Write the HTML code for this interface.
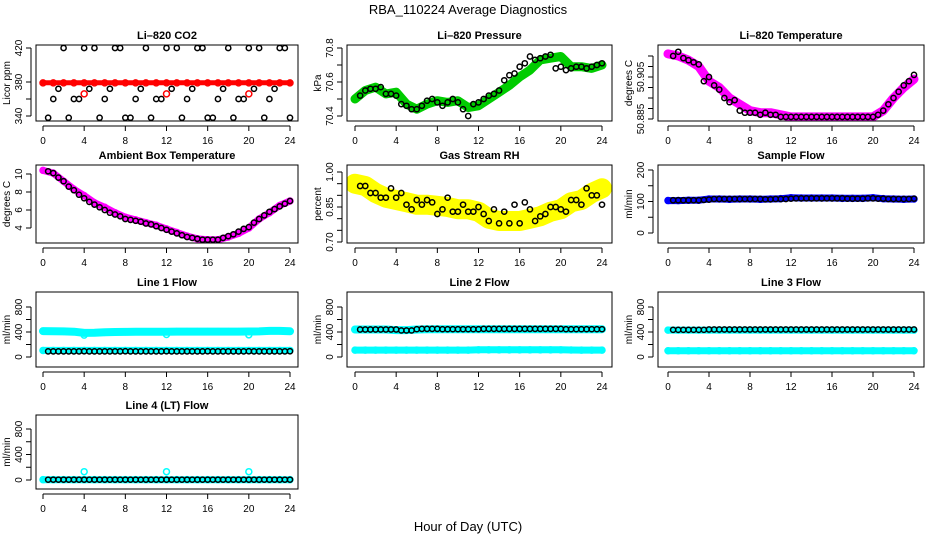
<!DOCTYPE html>
<html><head><meta charset="utf-8"><style>
body{margin:0;background:#fff;}
svg{display:block;font-family:"Liberation Sans",sans-serif;}
</style></head><body>
<svg id="c" width="936" height="540" viewBox="0 0 936 540">
<text x="468" y="14" text-anchor="middle" font-size="13">RBA_110224  Average Diagnostics</text>
<text x="468" y="531" text-anchor="middle" font-size="13">Hour of Day (UTC)</text>
</svg>
<script>
// ---- data (hourly colored series at 0..24, black series at 0.5..24 half-hourly) ----
const xTicks = [0,4,8,12,16,20,24];
const co2Red = [379,379,379,379,379,379,379,379,379,379,379,379,379,379,379,379,379,379,379,379,379,379,379,379,379];
const co2RedOutX = [4,12,20];
const co2RedOut = [366,366,366];
const co2Black = [338,360,372,420,338,360,360,420,372,420,338,360,372,420,420,338,338,360,372,420,338,360,360,420,372,420,338,360,372,420,420,338,338,360,372,420,338,360,360,420,372,420,338,360,372,420,420,338];
const presGreen = [70.5,70.55,70.57,70.53,70.54,70.47,70.44,70.47,70.49,70.48,70.49,70.45,70.46,70.5,70.54,70.58,70.63,70.67,70.73,70.74,70.75,70.69,70.69,70.68,70.7];
const presBlack = [70.52,70.55,70.56,70.56,70.57,70.53,70.53,70.52,70.47,70.46,70.44,70.44,70.46,70.49,70.5,70.48,70.46,70.48,70.5,70.48,70.44,70.4,70.47,70.48,70.5,70.52,70.53,70.55,70.61,70.64,70.65,70.69,70.71,70.75,70.73,70.74,70.75,70.76,70.68,70.69,70.67,70.68,70.69,70.69,70.68,70.69,70.7,70.71];
const tempMag = [50.916,50.915,50.913,50.910,50.903,50.900,50.895,50.892,50.889,50.888,50.888,50.887,50.886,50.886,50.886,50.886,50.886,50.886,50.886,50.886,50.886,50.889,50.895,50.900,50.904];
const tempBlack = [50.915,50.917,50.914,50.913,50.912,50.911,50.903,50.905,50.901,50.899,50.895,50.893,50.894,50.889,50.888,50.888,50.888,50.887,50.888,50.887,50.887,50.886,50.886,50.886,50.886,50.886,50.886,50.886,50.886,50.886,50.886,50.886,50.886,50.886,50.886,50.886,50.886,50.886,50.886,50.886,50.887,50.889,50.892,50.895,50.898,50.901,50.903,50.906];
const ambMag = [10.4,10.1,9.2,8.3,7.6,6.8,6.3,5.7,5.2,4.9,4.6,4.3,3.9,3.5,3.1,2.8,2.7,2.7,3.0,3.4,4.0,5.0,5.7,6.5,7.0];
const ambBlack = [10.3,10.1,9.6,9.2,8.6,8.2,7.7,7.3,6.9,6.6,6.3,6.0,5.7,5.5,5.3,5.0,4.9,4.8,4.7,4.5,4.4,4.2,4.0,3.8,3.6,3.4,3.2,3.0,2.9,2.8,2.7,2.7,2.7,2.7,2.9,3.1,3.3,3.6,3.9,4.1,4.6,5.0,5.4,5.8,6.1,6.4,6.7,7.0];
const rhYellow = [0.95,0.94,0.91,0.89,0.88,0.87,0.86,0.86,0.855,0.85,0.84,0.84,0.83,0.80,0.79,0.79,0.79,0.80,0.81,0.83,0.84,0.87,0.88,0.91,0.93];
const rhBlack = [0.94,0.94,0.91,0.91,0.89,0.89,0.93,0.89,0.91,0.86,0.84,0.88,0.86,0.88,0.87,0.82,0.84,0.89,0.83,0.83,0.86,0.83,0.83,0.85,0.82,0.79,0.84,0.78,0.83,0.78,0.86,0.78,0.87,0.84,0.79,0.81,0.82,0.85,0.85,0.84,0.83,0.88,0.88,0.86,0.93,0.90,0.90,0.86];
const sampBlue = [103,103,104,104,108,108,107,108,108,107,108,109,112,111,111,111,111,110,110,110,112,109,108,107,108];
const sampBlack = [104,104,104,104,104,104,105,106,108,108,108,108,108,108,108,108,108,108,107,107,108,108,108,109,110,110,110,110,110,110,110,110,110,110,109,109,109,109,110,110,109,109,108,108,108,108,108,109];
const l1CyanHi = [415,412,410,405,385,388,395,400,402,404,405,405,405,406,406,406,406,406,406,406,408,410,418,418,412];
const l1CyanLo = [105,105,105,105,105,105,105,105,105,105,105,105,105,105,105,105,105,105,105,105,105,105,105,105,105];
const l1OutX = [4,12,20];
const l1Out = [350,360,355];
const l1Black = [90,90,90,90,90,90,90,92,90,90,90,90,90,90,90,92,90,90,90,90,90,90,90,92,90,90,90,90,90,90,90,92,90,90,90,90,90,90,90,92,90,90,90,90,90,90,90,92];
const l2CyanHi = [440,440,440,440,430,430,440,445,445,445,445,445,445,445,445,445,445,445,445,445,445,445,445,445,445];
const l2CyanLo = [110,110,110,110,110,110,110,110,110,110,110,110,115,115,115,115,115,115,115,115,115,112,110,110,110];
const l2Black = [440,440,440,440,440,440,440,440,425,425,425,445,450,450,450,450,445,445,445,445,445,445,445,445,450,450,450,450,450,450,450,450,450,450,450,450,450,450,450,450,445,445,445,445,445,445,445,445];
const l3CyanHi = [430,430,430,430,430,430,430,430,430,430,430,430,430,430,430,430,430,430,430,430,430,430,430,430,430];
const l3CyanLo = [100,100,100,100,100,100,100,100,100,100,100,100,100,100,100,100,100,100,100,100,100,100,100,100,100];
const l3Black = [435,435,435,435,435,435,435,440,440,440,440,440,440,440,440,440,440,440,440,440,440,440,440,440,440,440,440,440,440,440,440,440,440,440,440,440,440,440,440,440,440,440,440,440,440,440,440,440];
const l4Cyan = [5,5,5,5,5,5,5,5,5,5,5,5,5,5,5,5,5,5,5,5,5,5,5,5,5];
const l4OutX = [4,12,20];
const l4Out = [130,130,130];
const l4Black = [5,5,5,5,5,5,5,5,5,5,5,5,5,5,5,5,5,5,5,5,5,5,5,5,5,5,5,5,5,5,5,5,5,5,5,5,5,5,5,5,5,5,5,5,5,5,5,5];

const NS="http://www.w3.org/2000/svg";
const svg=document.getElementById('c');
function mk(tag,attrs,parent){const e=document.createElementNS(NS,tag);for(const k in attrs)e.setAttribute(k,attrs[k]);(parent||svg).appendChild(e);return e;}
const cols=[{bx0:36,bx1:298,x0:43,x24:290},{bx0:347,bx1:612,x0:355,x24:602},{bx0:658,bx1:924,x0:668,x24:914}];
const rows=[{by0:45,by1:121},{by0:165,by1:243},{by0:292,by1:367},{by0:415,by1:489}];
function hourly(n){const a=[];for(let i=0;i<n;i++)a.push(i);return a;}
function half(n){const a=[];for(let i=0;i<n;i++)a.push(0.5+i*0.5);return a;}
const H=hourly(25), HH=half(48);
const flowTicks=[0,200,400,600,800], flowLabels=[0,400,800];
const panels=[
 {name:'li820-co2',title:'Li\u2013820 CO2',c:0,r:0,ylab:'Licor ppm',v1:340,p1:116,v2:420,p2:48,ticks:[340,360,380,420],labels:[340,380,420],fmt:v=>v,
  bands:[{x:H,y:co2Red,color:'#ff0000',w:5}],outs:[{x:co2RedOutX,y:co2RedOut,color:'#ff0000'}],black:co2Black},
 {name:'li820-pressure',title:'Li\u2013820 Pressure',c:1,r:0,ylab:'kPa',v1:70.4,p1:116,v2:70.8,p2:48,ticks:[70.4,70.5,70.6,70.7,70.8],labels:[70.4,70.6,70.8],fmt:v=>v.toFixed(1),
  bands:[{x:H,y:presGreen,color:'#00cc00',w:9}],outs:[],black:presBlack},
 {name:'li820-temperature',title:'Li\u2013820 Temperature',c:2,r:0,ylab:'degrees C',v1:50.885,p1:119,v2:50.905,p2:77,ticks:[50.885,50.89,50.895,50.9,50.905,50.91,50.915],labels:[50.885,50.905],fmt:v=>v.toFixed(3),
  bands:[{x:H,y:tempMag,color:'#ff00ff',w:9}],outs:[],black:tempBlack},
 {name:'ambient-box-temperature',title:'Ambient Box Temperature',c:0,r:1,ylab:'degrees C',v1:4,p1:228,v2:10,p2:174,ticks:[4,6,8,10],labels:[4,6,8,10],fmt:v=>v,
  bands:[{x:H,y:ambMag,color:'#ff00ff',w:7}],outs:[],black:ambBlack},
 {name:'gas-stream-rh',title:'Gas Stream RH',c:1,r:1,ylab:'percent',v1:0.7,p1:242,v2:1.0,p2:172,ticks:[0.7,0.75,0.8,0.85,0.9,0.95,1.0],labels:[0.7,0.85,1.0],fmt:v=>v.toFixed(2),
  bands:[{x:H,y:rhYellow,color:'#ffff00',w:20}],outs:[],black:rhBlack},
 {name:'sample-flow',title:'Sample Flow',c:2,r:1,ylab:'ml/min',v1:0,p1:233,v2:200,p2:170,ticks:[0,50,100,150,200],labels:[0,100,200],fmt:v=>v,
  bands:[{x:H,y:sampBlue,color:'#0000ff',w:7}],outs:[],black:sampBlack},
 {name:'line1-flow',title:'Line 1 Flow',c:0,r:2,ylab:'ml/min',v1:0,p1:357,v2:800,p2:307,ticks:flowTicks,labels:flowLabels,fmt:v=>v,
  bands:[{x:H,y:l1CyanHi,color:'#00ffff',w:8},{x:H,y:l1CyanLo,color:'#00ffff',w:7}],outs:[{x:l1OutX,y:l1Out,color:'#00ffff'}],black:l1Black},
 {name:'line2-flow',title:'Line 2 Flow',c:1,r:2,ylab:'ml/min',v1:0,p1:357,v2:800,p2:307,ticks:flowTicks,labels:flowLabels,fmt:v=>v,
  bands:[{x:H,y:l2CyanHi,color:'#00ffff',w:8},{x:H,y:l2CyanLo,color:'#00ffff',w:7}],outs:[],black:l2Black},
 {name:'line3-flow',title:'Line 3 Flow',c:2,r:2,ylab:'ml/min',v1:0,p1:357,v2:800,p2:307,ticks:flowTicks,labels:flowLabels,fmt:v=>v,
  bands:[{x:H,y:l3CyanHi,color:'#00ffff',w:7},{x:H,y:l3CyanLo,color:'#00ffff',w:7}],outs:[],black:l3Black},
 {name:'line4-lt-flow',title:'Line 4 (LT) Flow',c:0,r:3,ylab:'ml/min',v1:0,p1:480,v2:800,p2:429,ticks:flowTicks,labels:flowLabels,fmt:v=>v,
  bands:[{x:H,y:l4Cyan,color:'#00ffff',w:7}],outs:[{x:l4OutX,y:l4Out,color:'#00ffff'}],black:l4Black}
];
panels.forEach(p=>{
  const C=cols[p.c],R=rows[p.r];
  const g=mk('g',{});
  
  
  const xs=h=>C.x0+(C.x24-C.x0)*h/24;
  const ys=v=>p.p1+(p.p2-p.p1)*(v-p.v1)/(p.v2-p.v1);
  const cx=(C.bx0+C.bx1)/2;
  const t=mk('text',{x:cx,y:R.by0-6,'text-anchor':'middle','font-size':11,'font-weight':'bold'},g);
  t.textContent=p.title;
  
  
  const clip=mk('clipPath',{id:'clip-'+p.name},g);
  mk('rect',{x:C.bx0,y:R.by0,width:C.bx1-C.bx0,height:R.by1-R.by0},clip);
  const dg=mk('g',{'clip-path':'url(#clip-'+p.name+')'},g);
  p.bands.forEach(b=>{
    const pts=b.x.map((h,i)=>xs(h).toFixed(1)+','+ys(b.y[i]).toFixed(1)).join(' ');
    const pl=mk('polyline',{points:pts,fill:'none',stroke:b.color,'stroke-width':b.w,'stroke-linejoin':'round','stroke-linecap':'round'},dg);
    
    
    b.x.forEach((h,i)=>{
      const ci=mk('circle',{cx:xs(h),cy:ys(b.y[i]),r:3,fill:'none',stroke:b.color,'stroke-width':1.5},dg);
      
      
    });
  });
  p.outs.forEach(o=>{o.x.forEach((h,i)=>{
    const ci=mk('circle',{cx:xs(h),cy:ys(o.y[i]),r:3,fill:'none',stroke:o.color,'stroke-width':1.5},dg);
    
    
  });});
  p.black.forEach((v,i)=>{
    const ci=mk('circle',{cx:xs(HH[i]),cy:ys(v),r:2.6,fill:'none',stroke:'#000','stroke-width':1.5},dg);
    
    
  });
  const box=mk('rect',{x:C.bx0,y:R.by0,width:C.bx1-C.bx0,height:R.by1-R.by0,fill:'none',stroke:'#000','stroke-width':1},g);
  
  
  const xa=mk('g',{},g);
  
  
  mk('line',{x1:xs(0),x2:xs(24),y1:R.by1+5,y2:R.by1+5,stroke:'#000'},xa);
  xTicks.forEach(v=>{
    mk('line',{x1:xs(v),x2:xs(v),y1:R.by1+5,y2:R.by1+10,stroke:'#000'},xa);
    const tx=mk('text',{x:xs(v),y:R.by1+23,'text-anchor':'middle','font-size':10},xa);
    tx.textContent=v;
  });
  const ya=mk('g',{},g);
  
  
  const ax=C.bx0-5;
  mk('line',{x1:ax,x2:ax,y1:ys(p.ticks[0]),y2:ys(p.ticks[p.ticks.length-1]),stroke:'#000'},ya);
  p.ticks.forEach(v=>{mk('line',{x1:ax-5,x2:ax,y1:ys(v),y2:ys(v),stroke:'#000'},ya);});
  p.labels.forEach(v=>{
    const yy=ys(v);
    const tx=mk('text',{x:ax-9,y:yy,'text-anchor':'middle','font-size':10,transform:'rotate(-90 '+(ax-9)+' '+yy+')'},ya);
    tx.textContent=p.fmt(v);
  });
  const yl=(R.by0+R.by1)/2, lx=C.bx0-26;
  const ylt=mk('text',{x:lx,y:yl,'text-anchor':'middle','font-size':10,transform:'rotate(-90 '+lx+' '+yl+')'},g);
  ylt.textContent=p.ylab;
  
  
});
</script>
</body></html>
